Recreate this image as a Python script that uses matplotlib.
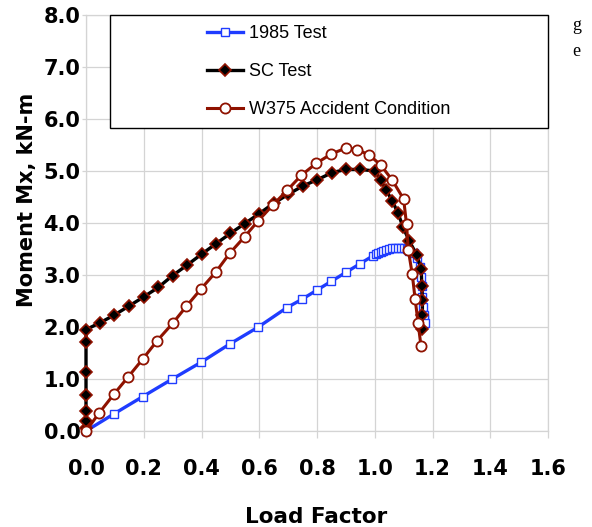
import matplotlib
matplotlib.use("Agg")
import matplotlib.pyplot as plt
from matplotlib.patches import Rectangle

plt.rcParams['font.family'] = ['Liberation Sans', 'DejaVu Sans']

# ---- data ----
x_1985 = [0.0, 0.097, 0.196, 0.299, 0.398, 0.497, 0.597, 0.695, 0.747, 0.80, 0.85, 0.90, 0.95,
          0.994, 1.003, 1.012, 1.021, 1.030, 1.040, 1.050, 1.060, 1.070, 1.080, 1.090, 1.100,
          1.110, 1.12, 1.135, 1.148, 1.156, 1.159, 1.162, 1.165, 1.167, 1.169, 1.171, 1.173]
y_1985 = [0.0, 0.33, 0.66, 1.0, 1.32, 1.67, 2.0, 2.37, 2.53, 2.71, 2.88, 3.05, 3.22,
          3.37, 3.40, 3.43, 3.45, 3.47, 3.49, 3.50, 3.51, 3.52, 3.52, 3.52, 3.51,
          3.50, 3.47, 3.42, 3.33, 3.16, 2.97, 2.78, 2.58, 2.39, 2.23, 2.15, 2.08]

x_sc = [0.0, 0.0, 0.0, 0.0, 0.0, 0.0, 0.0, 0.048, 0.098, 0.148, 0.20, 0.25, 0.30, 0.35,
        0.40, 0.45, 0.50, 0.55, 0.60, 0.65, 0.70, 0.75, 0.80, 0.853, 0.90, 0.95, 1.0,
        1.02, 1.04, 1.06, 1.08, 1.098, 1.12, 1.146, 1.161, 1.163, 1.165, 1.165, 1.163]
y_sc = [0.05, 0.2, 0.38, 0.69, 1.13, 1.72, 1.95, 2.08, 2.23, 2.40, 2.58, 2.76, 2.99, 3.19,
        3.40, 3.60, 3.80, 3.99, 4.18, 4.38, 4.55, 4.71, 4.83, 4.97, 5.03, 5.03, 5.0,
        4.83, 4.63, 4.43, 4.20, 3.92, 3.65, 3.38, 3.11, 2.79, 2.51, 2.23, 1.96]

x_w375 = [0.0, 0.046, 0.097, 0.146, 0.196, 0.247, 0.30, 0.348, 0.398, 0.45, 0.498, 0.55,
          0.596, 0.648, 0.697, 0.746, 0.798, 0.85, 0.90, 0.94, 0.98, 1.02, 1.06, 1.10,
          1.11, 1.116, 1.13, 1.14, 1.15, 1.16]
y_w375 = [0.0, 0.35, 0.71, 1.04, 1.38, 1.74, 2.07, 2.40, 2.73, 3.06, 3.42, 3.74,
          4.04, 4.35, 4.63, 4.92, 5.15, 5.33, 5.44, 5.41, 5.31, 5.12, 4.83, 4.46,
          3.98, 3.49, 3.01, 2.53, 2.08, 1.64]

labels = ["1985 Test", "SC Test", "W375 Accident Condition"]
x_ticks = [0.0, 0.2, 0.4, 0.6, 0.8, 1.0, 1.2, 1.4, 1.6]
y_ticks = [0.0, 1.0, 2.0, 3.0, 4.0, 5.0, 6.0, 7.0, 8.0]

# ---- figure ----
fig = plt.figure(figsize=(5.92, 5.27), dpi=100)
ax = fig.add_axes([86/592, 1 - 431/527, (548 - 86)/592, (431 - 15)/527])

grid_c = '#d4d4d4'
blue = '#1f3cff'
dred = '#8f1200'
bold_font = 'DejaVu Sans'

l1, = ax.plot(x_1985, y_1985, color=blue, lw=2.4, marker='s', ms=6,
              mfc='white', mec=blue, mew=1.0, zorder=3, clip_on=False)
l2, = ax.plot(x_sc, y_sc, color='black', lw=2.4, marker='D', ms=6,
              mfc='black', mec=dred, mew=1.2, zorder=4, clip_on=False)
l3, = ax.plot(x_w375, y_w375, color=dred, lw=2.2, marker='o', ms=7.3,
              mfc='white', mec=dred, mew=1.3, zorder=5, clip_on=False)

ax.set_xlim(0, 1.6)
ax.set_ylim(0, 8)
ax.set_xticks(x_ticks)
ax.set_yticks(y_ticks)
ax.set_xticklabels([f"{v:.1f}" for v in x_ticks])
ax.set_yticklabels([f"{v:.1f}" for v in y_ticks])
ax.grid(True, color=grid_c, lw=0.9, zorder=0)
ax.set_axisbelow(True)
for s in ax.spines.values():
    s.set_color(grid_c)
    s.set_linewidth(0.9)
ax.tick_params(axis='both', colors=grid_c, width=0.9, direction='out',
               labelsize=15, labelcolor='black')
ax.tick_params(axis='x', length=5, pad=15.5)
ax.tick_params(axis='y', length=3, pad=1)
for t in ax.get_xticklabels() + ax.get_yticklabels():
    t.set_fontweight('bold')
    t.set_family(bold_font)

ax.set_xlabel("Load Factor", fontsize=15.5, fontweight='bold', family=bold_font)
ax.xaxis.set_label_coords((316 - 86)/462, -(507 - 431)/416)
ax.set_ylabel("Moment Mx, kN-m", fontsize=15, fontweight='bold', family=bold_font)
ax.yaxis.set_label_coords((37 - 86)/462, (431 - 200)/416)

# legend box
box = Rectangle(((110 - 86)/462, (431 - 128)/416), (548 - 110)/462, (128 - 15)/416,
                transform=ax.transAxes, facecolor='white', edgecolor='black',
                lw=1.0, zorder=6, clip_on=False)
ax.add_patch(box)
leg = ax.legend([l1, l2, l3], labels, loc='upper left',
                bbox_to_anchor=((207 - 86)/462, (431 - 25)/416),
                frameon=False, fontsize=13, handlelength=2.0, handletextpad=0.3,
                labelspacing=1.17, borderpad=0, borderaxespad=0)
leg.set_zorder(7)

# stray page text at top right
fig.text(572/592, 1 - 25/527, "g", fontsize=13, family='Liberation Serif',
         ha='left', va='center')
fig.text(572/592, 1 - 51/527, "e", fontsize=13, family='Liberation Serif',
         ha='left', va='center')

fig.savefig("out.png", dpi=100)
